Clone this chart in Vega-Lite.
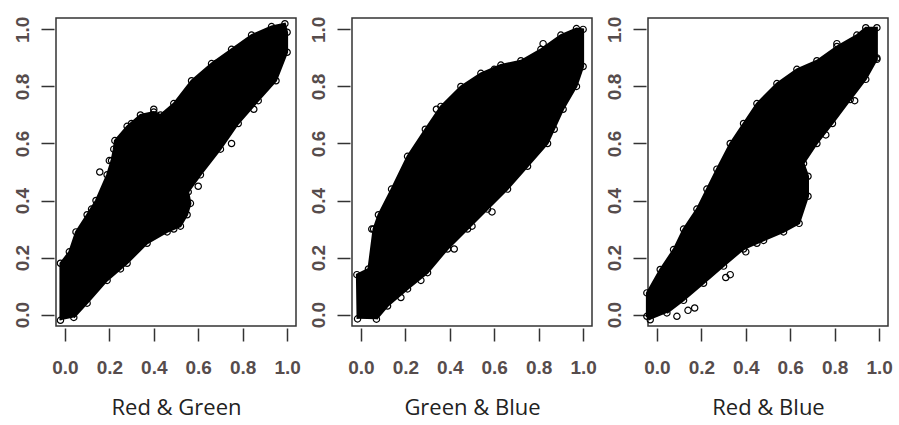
{
  "$schema": "https://vega.github.io/schema/vega-lite/v6.json",
  "padding": {"left": 12, "top": 15, "right": 4, "bottom": 0},
  "spacing": 6,
  "datasets": {
    "outline": [
      {"p":"RG","i":1,"x":-0.02,"y":-0.02},{"p":"RG","i":2,"x":-0.02,"y":0.18},{"p":"RG","i":3,"x":0.02,"y":0.22},{"p":"RG","i":4,"x":0.05,"y":0.29},{"p":"RG","i":5,"x":0.10,"y":0.35},{"p":"RG","i":6,"x":0.14,"y":0.40},{"p":"RG","i":7,"x":0.19,"y":0.49},{"p":"RG","i":8,"x":0.21,"y":0.54},{"p":"RG","i":9,"x":0.22,"y":0.58},{"p":"RG","i":10,"x":0.225,"y":0.61},{"p":"RG","i":11,"x":0.28,"y":0.66},{"p":"RG","i":12,"x":0.34,"y":0.70},{"p":"RG","i":13,"x":0.40,"y":0.71},{"p":"RG","i":14,"x":0.43,"y":0.70},{"p":"RG","i":15,"x":0.49,"y":0.74},{"p":"RG","i":16,"x":0.57,"y":0.82},{"p":"RG","i":17,"x":0.66,"y":0.88},{"p":"RG","i":18,"x":0.75,"y":0.93},{"p":"RG","i":19,"x":0.84,"y":0.98},{"p":"RG","i":20,"x":0.93,"y":1.01},{"p":"RG","i":21,"x":0.99,"y":1.02},{"p":"RG","i":22,"x":1.0,"y":0.99},{"p":"RG","i":23,"x":1.0,"y":0.92},{"p":"RG","i":24,"x":0.95,"y":0.82},{"p":"RG","i":25,"x":0.87,"y":0.75},{"p":"RG","i":26,"x":0.78,"y":0.67},{"p":"RG","i":27,"x":0.70,"y":0.58},{"p":"RG","i":28,"x":0.61,"y":0.49},{"p":"RG","i":29,"x":0.555,"y":0.43},{"p":"RG","i":30,"x":0.565,"y":0.39},{"p":"RG","i":31,"x":0.55,"y":0.35},{"p":"RG","i":32,"x":0.52,"y":0.31},{"p":"RG","i":33,"x":0.46,"y":0.29},{"p":"RG","i":34,"x":0.37,"y":0.25},{"p":"RG","i":35,"x":0.28,"y":0.18},{"p":"RG","i":36,"x":0.19,"y":0.12},{"p":"RG","i":37,"x":0.10,"y":0.04},{"p":"RG","i":38,"x":0.04,"y":-0.01},
      {"p":"GB","i":1,"x":-0.015,"y":-0.015},{"p":"GB","i":2,"x":-0.018,"y":0.14},{"p":"GB","i":3,"x":0.034,"y":0.16},{"p":"GB","i":4,"x":0.057,"y":0.30},{"p":"GB","i":5,"x":0.079,"y":0.35},{"p":"GB","i":6,"x":0.138,"y":0.44},{"p":"GB","i":7,"x":0.21,"y":0.555},{"p":"GB","i":8,"x":0.29,"y":0.65},{"p":"GB","i":9,"x":0.36,"y":0.73},{"p":"GB","i":10,"x":0.45,"y":0.80},{"p":"GB","i":11,"x":0.54,"y":0.846},{"p":"GB","i":12,"x":0.63,"y":0.875},{"p":"GB","i":13,"x":0.72,"y":0.89},{"p":"GB","i":14,"x":0.81,"y":0.93},{"p":"GB","i":15,"x":0.90,"y":0.98},{"p":"GB","i":16,"x":0.97,"y":1.003},{"p":"GB","i":17,"x":1.0,"y":1.0},{"p":"GB","i":18,"x":1.0,"y":0.87},{"p":"GB","i":19,"x":0.97,"y":0.80},{"p":"GB","i":20,"x":0.91,"y":0.72},{"p":"GB","i":21,"x":0.84,"y":0.60},{"p":"GB","i":22,"x":0.75,"y":0.52},{"p":"GB","i":23,"x":0.66,"y":0.44},{"p":"GB","i":24,"x":0.57,"y":0.37},{"p":"GB","i":25,"x":0.48,"y":0.30},{"p":"GB","i":26,"x":0.39,"y":0.23},{"p":"GB","i":27,"x":0.30,"y":0.147},{"p":"GB","i":28,"x":0.21,"y":0.09},{"p":"GB","i":29,"x":0.12,"y":0.03},{"p":"GB","i":30,"x":0.07,"y":-0.016},
      {"p":"RB","i":1,"x":-0.03,"y":-0.018},{"p":"RB","i":2,"x":-0.045,"y":-0.006},{"p":"RB","i":3,"x":-0.045,"y":0.076},{"p":"RB","i":4,"x":0.015,"y":0.158},{"p":"RB","i":5,"x":0.075,"y":0.228},{"p":"RB","i":6,"x":0.12,"y":0.30},{"p":"RB","i":7,"x":0.18,"y":0.37},{"p":"RB","i":8,"x":0.225,"y":0.44},{"p":"RB","i":9,"x":0.27,"y":0.51},{"p":"RB","i":10,"x":0.33,"y":0.60},{"p":"RB","i":11,"x":0.39,"y":0.67},{"p":"RB","i":12,"x":0.45,"y":0.74},{"p":"RB","i":13,"x":0.54,"y":0.81},{"p":"RB","i":14,"x":0.63,"y":0.86},{"p":"RB","i":15,"x":0.72,"y":0.89},{"p":"RB","i":16,"x":0.81,"y":0.94},{"p":"RB","i":17,"x":0.90,"y":0.98},{"p":"RB","i":18,"x":0.94,"y":1.006},{"p":"RB","i":19,"x":0.99,"y":1.006},{"p":"RB","i":20,"x":0.99,"y":0.895},{"p":"RB","i":21,"x":0.94,"y":0.825},{"p":"RB","i":22,"x":0.87,"y":0.754},{"p":"RB","i":23,"x":0.79,"y":0.67},{"p":"RB","i":24,"x":0.72,"y":0.60},{"p":"RB","i":25,"x":0.66,"y":0.53},{"p":"RB","i":26,"x":0.68,"y":0.485},{"p":"RB","i":27,"x":0.68,"y":0.415},{"p":"RB","i":28,"x":0.64,"y":0.32},{"p":"RB","i":29,"x":0.57,"y":0.29},{"p":"RB","i":30,"x":0.48,"y":0.26},{"p":"RB","i":31,"x":0.39,"y":0.23},{"p":"RB","i":32,"x":0.30,"y":0.17},{"p":"RB","i":33,"x":0.21,"y":0.11},{"p":"RB","i":34,"x":0.12,"y":0.05},{"p":"RB","i":35,"x":0.045,"y":0.006}
    ],
    "extra": [
      {"p":"RG","x":0.157,"y":0.50},{"p":"RG","x":0.20,"y":0.54},{"p":"RG","x":0.23,"y":0.53},{"p":"RG","x":0.53,"y":0.345},{"p":"RG","x":0.49,"y":0.30},{"p":"RG","x":0.68,"y":0.88},{"p":"RG","x":0.40,"y":0.72},{"p":"RG","x":0.45,"y":0.70},{"p":"RG","x":0.30,"y":0.67},{"p":"RG","x":0.12,"y":0.37},{"p":"RG","x":0.06,"y":0.27},{"p":"RG","x":0.75,"y":0.60},{"p":"RG","x":0.85,"y":0.72},{"p":"RG","x":0.60,"y":0.45},{"p":"RG","x":0.25,"y":0.16},{"p":"RG","x":0.54,"y":0.38},
      {"p":"GB","x":0.049,"y":0.30},{"p":"GB","x":0.82,"y":0.95},{"p":"GB","x":0.50,"y":0.31},{"p":"GB","x":0.59,"y":0.36},{"p":"GB","x":0.42,"y":0.23},{"p":"GB","x":0.27,"y":0.12},{"p":"GB","x":0.87,"y":0.65},{"p":"GB","x":0.18,"y":0.06},{"p":"GB","x":0.34,"y":0.72},{"p":"GB","x":0.60,"y":0.86},
      {"p":"RB","x":0.09,"y":-0.006},{"p":"RB","x":0.17,"y":0.023},{"p":"RB","x":0.14,"y":0.015},{"p":"RB","x":0.31,"y":0.13},{"p":"RB","x":0.33,"y":0.14},{"p":"RB","x":0.40,"y":0.22},{"p":"RB","x":0.45,"y":0.25},{"p":"RB","x":0.66,"y":0.485},{"p":"RB","x":0.66,"y":0.50},{"p":"RB","x":0.76,"y":0.63},{"p":"RB","x":0.89,"y":0.75},{"p":"RB","x":0.99,"y":0.90},{"p":"RB","x":0.81,"y":0.95},{"p":"RB","x":0.27,"y":0.44}
    ]
  },
  "config": {
    "view": {"stroke": "#333333", "strokeWidth": 1.5},
    "axis": {
      "domain": false, "grid": false, "ticks": true, "tickSize": 13, "tickColor": "#333333", "tickWidth": 1.5, "offset": 2,
      "labelFont": "Liberation Sans", "labelFontSize": 19, "labelFontWeight": "bold", "labelColor": "#564c4c",
      "titleFont": "Open Sans", "titleFontSize": 22, "titleFontWeight": "normal", "titleColor": "#222222"
    },
    "axisX": {"labelPadding": 17, "titlePadding": 20},
    "axisY": {"labelAngle": -90, "labelAlign": "center", "labelBaseline": "bottom", "labelPadding": 9}
  },
  "hconcat": [
    {
      "width": 240, "height": 308,
      "layer": [
        {"data": {"name": "outline"}, "transform": [{"filter": "datum.p == 'RG'"}],
         "mark": {"type": "line", "fill": "black", "stroke": "black", "strokeWidth": 2},
         "encoding": {
           "x": {"field": "x", "type": "quantitative", "title": "Red & Green", "scale": {"domain": [-0.04, 1.04], "nice": false, "zero": false}, "axis": {"values": [0, 0.2, 0.4, 0.6, 0.8, 1.0], "format": ".1f"}},
           "y": {"field": "y", "type": "quantitative", "title": null, "scale": {"domain": [-0.04, 1.04], "nice": false, "zero": false}, "axis": {"values": [0, 0.2, 0.4, 0.6, 0.8, 1.0], "format": ".1f"}},
           "order": {"field": "i"}
         }},
        {"data": {"name": "outline"}, "transform": [{"filter": "datum.p == 'RG'"}],
         "mark": {"type": "point", "shape": "circle", "filled": false, "color": "black", "size": 40, "strokeWidth": 1.2, "opacity": 1},
         "encoding": {"x": {"field": "x", "type": "quantitative"}, "y": {"field": "y", "type": "quantitative"}}},
        {"data": {"name": "extra"}, "transform": [{"filter": "datum.p == 'RG'"}],
         "mark": {"type": "point", "shape": "circle", "filled": false, "color": "black", "size": 40, "strokeWidth": 1.2, "opacity": 1},
         "encoding": {"x": {"field": "x", "type": "quantitative"}, "y": {"field": "y", "type": "quantitative"}}}
      ]
    },
    {
      "width": 240, "height": 308,
      "layer": [
        {"data": {"name": "outline"}, "transform": [{"filter": "datum.p == 'GB'"}],
         "mark": {"type": "line", "fill": "black", "stroke": "black", "strokeWidth": 2},
         "encoding": {
           "x": {"field": "x", "type": "quantitative", "title": "Green & Blue", "scale": {"domain": [-0.04, 1.04], "nice": false, "zero": false}, "axis": {"values": [0, 0.2, 0.4, 0.6, 0.8, 1.0], "format": ".1f"}},
           "y": {"field": "y", "type": "quantitative", "title": null, "scale": {"domain": [-0.04, 1.04], "nice": false, "zero": false}, "axis": {"values": [0, 0.2, 0.4, 0.6, 0.8, 1.0], "format": ".1f"}},
           "order": {"field": "i"}
         }},
        {"data": {"name": "outline"}, "transform": [{"filter": "datum.p == 'GB'"}],
         "mark": {"type": "point", "shape": "circle", "filled": false, "color": "black", "size": 40, "strokeWidth": 1.2, "opacity": 1},
         "encoding": {"x": {"field": "x", "type": "quantitative"}, "y": {"field": "y", "type": "quantitative"}}},
        {"data": {"name": "extra"}, "transform": [{"filter": "datum.p == 'GB'"}],
         "mark": {"type": "point", "shape": "circle", "filled": false, "color": "black", "size": 40, "strokeWidth": 1.2, "opacity": 1},
         "encoding": {"x": {"field": "x", "type": "quantitative"}, "y": {"field": "y", "type": "quantitative"}}}
      ]
    },
    {
      "width": 240, "height": 308,
      "layer": [
        {"data": {"name": "outline"}, "transform": [{"filter": "datum.p == 'RB'"}],
         "mark": {"type": "line", "fill": "black", "stroke": "black", "strokeWidth": 2},
         "encoding": {
           "x": {"field": "x", "type": "quantitative", "title": "Red & Blue", "scale": {"domain": [-0.04, 1.04], "nice": false, "zero": false}, "axis": {"values": [0, 0.2, 0.4, 0.6, 0.8, 1.0], "format": ".1f"}},
           "y": {"field": "y", "type": "quantitative", "title": null, "scale": {"domain": [-0.04, 1.04], "nice": false, "zero": false}, "axis": {"values": [0, 0.2, 0.4, 0.6, 0.8, 1.0], "format": ".1f"}},
           "order": {"field": "i"}
         }},
        {"data": {"name": "outline"}, "transform": [{"filter": "datum.p == 'RB'"}],
         "mark": {"type": "point", "shape": "circle", "filled": false, "color": "black", "size": 40, "strokeWidth": 1.2, "opacity": 1},
         "encoding": {"x": {"field": "x", "type": "quantitative"}, "y": {"field": "y", "type": "quantitative"}}},
        {"data": {"name": "extra"}, "transform": [{"filter": "datum.p == 'RB'"}],
         "mark": {"type": "point", "shape": "circle", "filled": false, "color": "black", "size": 40, "strokeWidth": 1.2, "opacity": 1},
         "encoding": {"x": {"field": "x", "type": "quantitative"}, "y": {"field": "y", "type": "quantitative"}}}
      ]
    }
  ]
}
